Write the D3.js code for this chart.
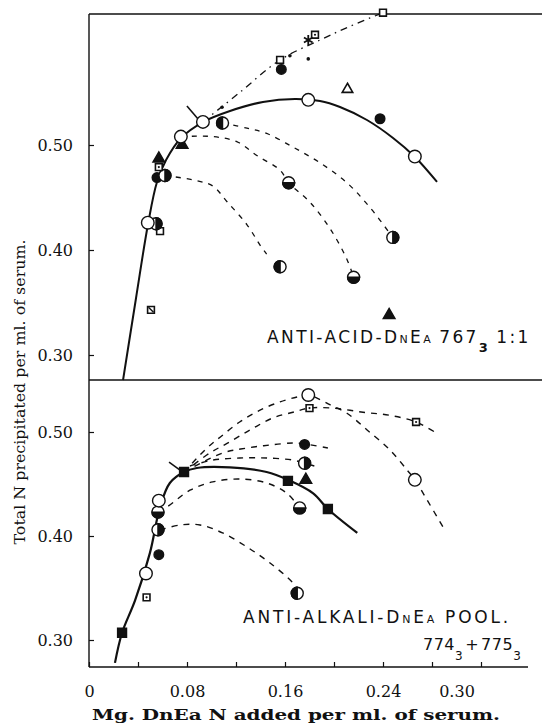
<!DOCTYPE html>
<html>
<head>
<meta charset="utf-8">
<script src="https://cdn.jsdelivr.net/npm/d3@7"></script>
<style>
  body { margin: 0; background: #fff; }
  svg { display: block; }
  .tick text { font-family: "DejaVu Serif", serif; font-size: 16px; fill: #111; }
  .domain { display: none; }
  .tick line { stroke: #111; stroke-width: 1.2; }
</style>
</head>
<body>
<svg id="chart" width="544" height="728"></svg>
<script>
// ---- values ----
const xTickValues = [0, 0.04, 0.08, 0.12, 0.16, 0.20, 0.24, 0.28, 0.32];
const xLabelValues = [0, 0.08, 0.16, 0.24, 0.30];
const xLabelText = ["0", "0.08", "0.16", "0.24", "0.30"];
const yTickValues = [0.30, 0.40, 0.50];
const yTickText = ["0.30", "0.40", "0.50"];

// top panel: anti-acid-DnEa 767
const topSolid = [[0.0278, 0.2762], [0.0384, 0.3543], [0.0482, 0.4248], [0.0555, 0.4648], [0.0629, 0.4857],
  [0.0751, 0.5067], [0.0931, 0.5219], [0.1151, 0.5324], [0.1420, 0.5410], [0.1682, 0.5438], [0.1886, 0.5419],
  [0.2049, 0.5362], [0.2269, 0.5238], [0.2482, 0.5067], [0.2661, 0.4886], [0.2841, 0.4648]];
const topDashUp = [[0.093, 0.522], [0.123, 0.550], [0.156, 0.581], [0.1886, 0.600], [0.213, 0.613],
  [0.240, 0.626]];
const topDashA = [[0.109, 0.521], [0.129, 0.516], [0.145, 0.511], [0.1665, 0.498], [0.1886, 0.483],
  [0.2106, 0.464], [0.229, 0.441], [0.248, 0.412]];
const topDashB = [[0.075, 0.508], [0.101, 0.508], [0.121, 0.503], [0.137, 0.490], [0.156, 0.476],
  [0.163, 0.464], [0.180, 0.446], [0.197, 0.420], [0.2106, 0.391], [0.216, 0.374]];
const topDashC = [[0.062, 0.471], [0.088, 0.466], [0.101, 0.461], [0.1127, 0.446], [0.129, 0.424],
  [0.140, 0.404], [0.145, 0.396]];
const topPoints = [
  [0.240, 0.626, "square"], [0.1845, 0.605, "squareDot"], [0.179, 0.600, "star"],
  [0.179, 0.582, "dot"], [0.164, 0.585, "dot"], [0.1086, 0.536, "dot"],
  [0.156, 0.581, "square"], [0.157, 0.572, "filled"], [0.211, 0.553, "triOpen"],
  [0.179, 0.543, "open"], [0.2376, 0.525, "filled"], [0.266, 0.489, "open"],
  [0.093, 0.522, "open"], [0.109, 0.521, "halfL"],
  [0.076, 0.500, "triFilled"], [0.075, 0.508, "open"],
  [0.057, 0.487, "triFilled"], [0.0555, 0.469, "filled"], [0.062, 0.471, "halfR"], [0.057, 0.479, "squareDot"],
  [0.058, 0.418, "square"], [0.0547, 0.425, "halfR"], [0.048, 0.426, "open"],
  [0.156, 0.384, "halfL"], [0.248, 0.412, "halfR"], [0.163, 0.464, "halfB"], [0.216, 0.374, "halfB"],
  [0.245, 0.338, "triFilled"], [0.0506, 0.343, "squareSlash"]
];

// bottom panel: anti-alkali-DnEa pool 774 + 775
const botSolid = [[0.0212, 0.278], [0.027, 0.307], [0.0376, 0.338], [0.0498, 0.384], [0.058, 0.428],
  [0.066, 0.451], [0.0776, 0.4615], [0.088, 0.4654], [0.115, 0.466], [0.145, 0.4615], [0.1624, 0.454],
  [0.183, 0.441], [0.195, 0.426], [0.219, 0.403]];
const botDashA = [[0.0776, 0.4615], [0.0963, 0.4846], [0.107, 0.495], [0.123, 0.5096], [0.1396, 0.521],
  [0.156, 0.529], [0.170, 0.5337], [0.179, 0.5356], [0.197, 0.526], [0.2106, 0.518], [0.227, 0.502],
  [0.2457, 0.4827], [0.2596, 0.4635], [0.266, 0.454], [0.276, 0.4346], [0.289, 0.4087]];
const botDashB = [[0.0776, 0.4615], [0.0988, 0.480], [0.1127, 0.489], [0.1314, 0.5019], [0.150, 0.5135],
  [0.1665, 0.519], [0.180, 0.523], [0.199, 0.523], [0.2237, 0.519], [0.2457, 0.516], [0.267, 0.5096],
  [0.285, 0.498]];
const botDashC = [[0.0776, 0.4615], [0.109, 0.4798], [0.129, 0.4846], [0.1478, 0.4875], [0.1665, 0.4894],
  [0.176, 0.4885], [0.195, 0.4846]];
const botDashD = [[0.0824, 0.4673], [0.101, 0.473], [0.123, 0.475], [0.145, 0.475], [0.1665, 0.473],
  [0.176, 0.470], [0.187, 0.4663]];
const botDashE = [[0.0563, 0.423], [0.0637, 0.4279], [0.0824, 0.444], [0.101, 0.452], [0.123, 0.4548],
  [0.145, 0.451], [0.1616, 0.441], [0.172, 0.427]];
const botDashF = [[0.058, 0.4058], [0.0743, 0.4106], [0.0906, 0.4106], [0.109, 0.403], [0.129, 0.3894],
  [0.1478, 0.374], [0.1665, 0.3548], [0.172, 0.345]];
const botPoints = [
  [0.027, 0.307, "squareFilled"], [0.047, 0.341, "squareDot"], [0.0465, 0.364, "open"],
  [0.057, 0.382, "filled"], [0.0563, 0.406, "halfR"], [0.0563, 0.423, "halfB"], [0.057, 0.434, "open"],
  [0.0776, 0.4615, "squareFilled"], [0.179, 0.5356, "open"], [0.180, 0.523, "squareDot"],
  [0.267, 0.5096, "squareDot"], [0.176, 0.488, "filled"], [0.176, 0.470, "halfR"],
  [0.177, 0.454, "triFilled"], [0.1624, 0.453, "squareFilled"], [0.195, 0.426, "squareFilled"],
  [0.172, 0.427, "halfB"], [0.266, 0.454, "open"], [0.170, 0.345, "halfL"]
];

// ---- layout ----
const svg = d3.select("#chart");
const ink = "#111";
const left = 89, rightEdge = 542;
const topY = 14, midY = 380, botY = 667;

const x = d3.scaleLinear().domain([0, 0.32]).range([left, 481]);
const yTop = d3.scaleLinear().domain([0.30, 0.50]).range([355, 145]);
const yBot = d3.scaleLinear().domain([0.30, 0.50]).range([640, 432]);

// frame lines
const frame = svg.append("g").attr("stroke", ink).attr("fill", "none");
frame.append("line").attr("x1", left).attr("x2", rightEdge).attr("y1", topY).attr("y2", topY).attr("stroke-width", 1.6);
frame.append("line").attr("x1", left).attr("x2", rightEdge).attr("y1", midY).attr("y2", midY).attr("stroke-width", 1.6);
frame.append("line").attr("x1", left).attr("x2", 528).attr("y1", botY).attr("y2", botY).attr("stroke-width", 1.6);
frame.append("line").attr("x1", left).attr("x2", left).attr("y1", topY).attr("y2", botY).attr("stroke-width", 1.4);

// axes
svg.append("g").attr("transform", `translate(0,${botY})`)
  .call(d3.axisBottom(x).tickValues(xTickValues).tickSizeInner(-5).tickSizeOuter(0).tickFormat(""));
svg.append("g").attr("transform", `translate(0,${botY})`)
  .call(d3.axisBottom(x).tickValues(xLabelValues).tickSize(0).tickPadding(19)
    .tickFormat((d, i) => xLabelText[i]));

[yTop, yBot].forEach(sc => {
  svg.append("g").attr("transform", `translate(${left},0)`)
    .call(d3.axisLeft(sc).tickValues(yTickValues).tickSizeInner(-5).tickSizeOuter(0).tickPadding(16)
      .tickFormat((d, i) => yTickText[i]));
});

svg.append("text")
  .attr("transform", "translate(25,392) rotate(-90)")
  .attr("text-anchor", "middle")
  .attr("font-family", "DejaVu Serif, serif").attr("font-size", 15).attr("fill", ink)
  .attr("textLength", 305).attr("lengthAdjust", "spacingAndGlyphs")
  .text("Total N precipitated per ml. of serum.");

svg.append("text")
  .attr("x", 296).attr("y", 720)
  .attr("text-anchor", "middle")
  .attr("font-family", "DejaVu Serif, serif").attr("font-size", 15).attr("font-weight", "bold").attr("fill", ink)
  .attr("textLength", 408).attr("lengthAdjust", "spacingAndGlyphs")
  .text("Mg. DnEa N added per ml. of serum.");

// curves
function drawCurve(data, ys, dash, width) {
  const line = d3.line().x(d => x(d[0])).y(d => ys(d[1])).curve(d3.curveCatmullRom.alpha(0.5));
  svg.append("path").datum(data).attr("d", line)
    .attr("fill", "none").attr("stroke", ink).attr("stroke-width", width)
    .attr("stroke-dasharray", dash);
}
drawCurve(topSolid, yTop, null, 2);
drawCurve(topDashUp, yTop, "7,5,1.5,5", 1.3);
[topDashA, topDashB, topDashC].forEach(c => drawCurve(c, yTop, "5,6", 1.3));
drawCurve(botSolid, yBot, null, 2.2);
[botDashA, botDashB, botDashC, botDashD, botDashE, botDashF].forEach(c => drawCurve(c, yBot, "6,6", 1.4));

// arrows pointing at the equivalence points
function arrow(pt, ys, dx, dy) {
  const px = x(pt[0]), py = ys(pt[1]);
  svg.append("line").attr("x1", px + dx).attr("y1", py + dy).attr("x2", px - 4).attr("y2", py - 2)
    .attr("stroke", ink).attr("stroke-width", 1.6);
}
arrow(topPoints[12], yTop, -16, -16);
arrow(botPoints[7], yBot, -15, -10);

// markers
const halfArc = d3.arc().innerRadius(0).outerRadius(6);
const halves = { halfL: [Math.PI, 2 * Math.PI], halfR: [0, Math.PI], halfB: [Math.PI / 2, 1.5 * Math.PI] };

function marker(px, py, kind) {
  const g = svg.append("g").attr("transform", `translate(${px},${py})`)
    .attr("stroke", ink).attr("stroke-width", 1.4);
  if (kind === "open") {
    g.append("circle").attr("r", 6.3).attr("fill", "#fff");
  } else if (kind === "filled") {
    g.append("circle").attr("r", 4.8).attr("fill", ink);
  } else if (kind === "dot") {
    g.append("circle").attr("r", 1.8).attr("fill", ink).attr("stroke", "none");
  } else if (halves[kind]) {
    g.append("circle").attr("r", 6).attr("fill", "#fff");
    g.append("path").attr("d", halfArc({ startAngle: halves[kind][0], endAngle: halves[kind][1] })).attr("fill", ink);
  } else if (kind === "square" || kind === "squareDot" || kind === "squareSlash") {
    g.append("path").attr("d", d3.symbol(d3.symbolSquare, 46)()).attr("fill", "#fff").attr("stroke-width", 1.6);
    if (kind === "squareDot") g.append("circle").attr("r", 1.1).attr("fill", ink).attr("stroke", "none");
    if (kind === "squareSlash") g.append("line").attr("x1", -2.5).attr("y1", -2.5).attr("x2", 2.5).attr("y2", 2.5);
  } else if (kind === "squareFilled") {
    g.append("path").attr("d", d3.symbol(d3.symbolSquare, 80)()).attr("fill", ink);
  } else if (kind === "triOpen") {
    g.append("path").attr("d", d3.symbol(d3.symbolTriangle, 48)()).attr("fill", "#fff").attr("stroke-width", 1.6);
  } else if (kind === "triFilled") {
    g.append("path").attr("d", d3.symbol(d3.symbolTriangle, 60)()).attr("fill", ink);
  } else if (kind === "star") {
    g.append("path").attr("d", d3.symbol(d3.symbolAsterisk, 70)()).attr("fill", "none").attr("stroke-width", 1.8);
  }
}
topPoints.forEach(d => marker(x(d[0]), yTop(d[1]), d[2]));
botPoints.forEach(d => marker(x(d[0]), yBot(d[1]), d[2]));

// panel captions
const lab = { family: "DejaVu Sans, sans-serif", size: 17 };
const t1 = svg.append("text").attr("x", 267).attr("y", 343)
  .attr("font-family", lab.family).attr("font-size", lab.size).attr("letter-spacing", 2.4).attr("fill", ink);
t1.append("tspan").text("ANTI-ACID-D");
t1.append("tspan").attr("font-size", 11).text("N");
t1.append("tspan").text("E");
t1.append("tspan").attr("font-size", 11).text("A");
t1.append("tspan").attr("dx", 6).text("767");
t1.append("tspan").attr("dy", 9).attr("font-size", 13).attr("font-weight", "bold").text("3");
t1.append("tspan").attr("dy", -9).attr("dx", 6).text("1:1");

const t2 = svg.append("text").attr("x", 243).attr("y", 623)
  .attr("font-family", lab.family).attr("font-size", lab.size).attr("letter-spacing", 2.8).attr("fill", ink);
t2.append("tspan").text("ANTI-ALKALI-D");
t2.append("tspan").attr("font-size", 11).text("N");
t2.append("tspan").text("E");
t2.append("tspan").attr("font-size", 11).text("A");
t2.append("tspan").attr("dx", 8).text("POOL.");

const t3 = svg.append("text").attr("x", 423).attr("y", 650)
  .attr("font-family", lab.family).attr("font-size", 16).attr("letter-spacing", 0.5).attr("fill", ink);
t3.append("tspan").text("774");
t3.append("tspan").attr("dy", 10).attr("font-size", 12).text("3");
t3.append("tspan").attr("dy", -10).attr("dx", 2).text("+");
t3.append("tspan").attr("dx", 2).text("775");
t3.append("tspan").attr("dy", 10).attr("font-size", 12).text("3");
</script>
</body>
</html>
